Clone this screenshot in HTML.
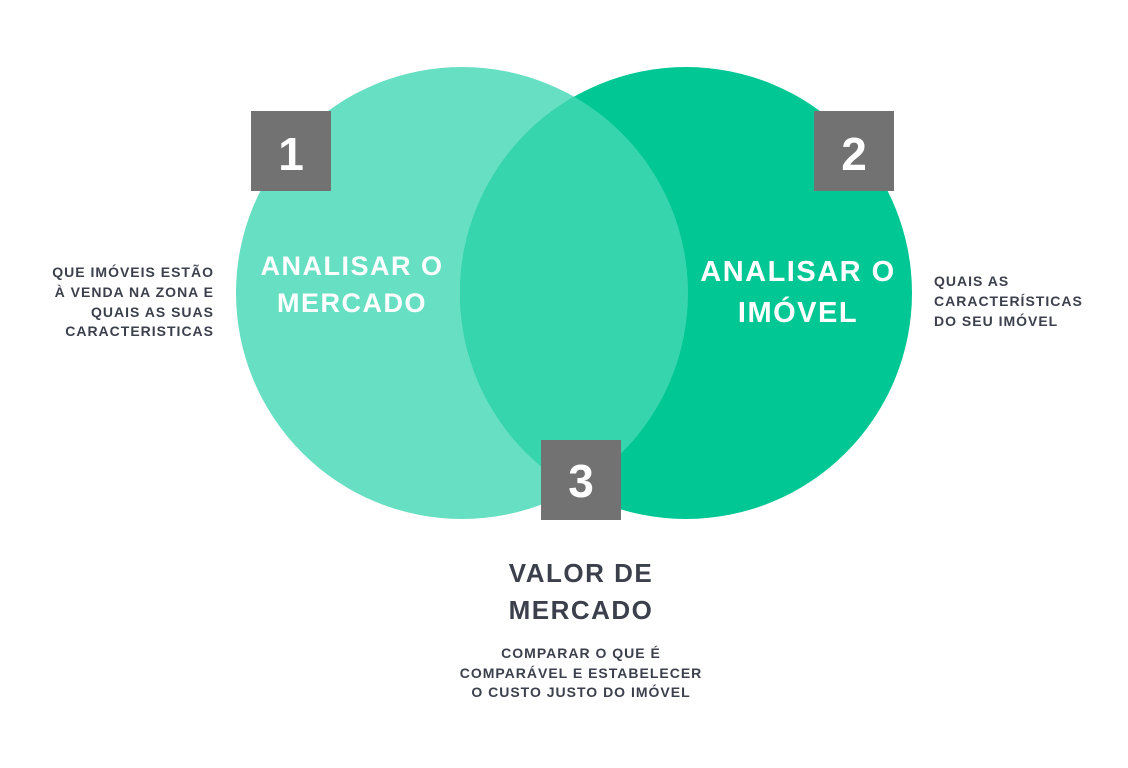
<!DOCTYPE html>
<html><head><meta charset="utf-8"><style>
body{margin:0;width:1128px;height:768px;background:#fff;overflow:hidden;font-family:"Liberation Sans",sans-serif;}
</style></head><body>
<svg width="1128" height="768" xmlns="http://www.w3.org/2000/svg" style="position:absolute;left:0;top:0">
<defs><clipPath id="c"><circle cx="462" cy="293" r="226"/></clipPath></defs>
<circle cx="462" cy="293" r="226" fill="#66dfc2"/>
<circle cx="686" cy="293" r="226" fill="#00c794"/>
<circle cx="686" cy="293" r="226" fill="#37d5ad" clip-path="url(#c)"/>
<rect x="251" y="111" width="80" height="80" fill="#727272"/>
<rect x="814" y="111" width="80" height="80" fill="#727272"/>
<rect x="541" y="440" width="80" height="80" fill="#727272"/>
<g font-family="Liberation Sans, sans-serif" font-weight="bold" fill="#fff" text-anchor="middle">
<text x="291" y="170" font-size="46">1</text>
<text x="854" y="170" font-size="46">2</text>
<text x="581" y="497" font-size="46">3</text>
<text x="352" y="275" font-size="27" letter-spacing="1.5">ANALISAR O</text>
<text x="352" y="312" font-size="27" letter-spacing="1.5">MERCADO</text>
<text x="798" y="281" font-size="29" letter-spacing="1.5">ANALISAR O</text>
<text x="798" y="322" font-size="29" letter-spacing="1.5">IMÓVEL</text>
</g>
<g font-family="Liberation Sans, sans-serif" font-weight="bold" fill="#3b404c" font-size="14" letter-spacing="1">
<g text-anchor="end">
<text x="214" y="277">QUE IMÓVEIS ESTÃO</text>
<text x="214" y="297">À VENDA NA ZONA E</text>
<text x="214" y="317">QUAIS AS SUAS</text>
<text x="214" y="336">CARACTERISTICAS</text>
</g>
<text x="934" y="286">QUAIS AS</text>
<text x="934" y="306">CARACTERÍSTICAS</text>
<text x="934" y="326">DO SEU IMÓVEL</text>
<g text-anchor="middle">
<text x="581" y="658">COMPARAR O QUE É</text>
<text x="581" y="678">COMPARÁVEL E ESTABELECER</text>
<text x="581" y="697">O CUSTO JUSTO DO IMÓVEL</text>
<text x="581" y="582" font-size="26" letter-spacing="1.5">VALOR DE</text>
<text x="581" y="619" font-size="26" letter-spacing="1.5">MERCADO</text>
</g>
</g>
</svg>
</body></html>
